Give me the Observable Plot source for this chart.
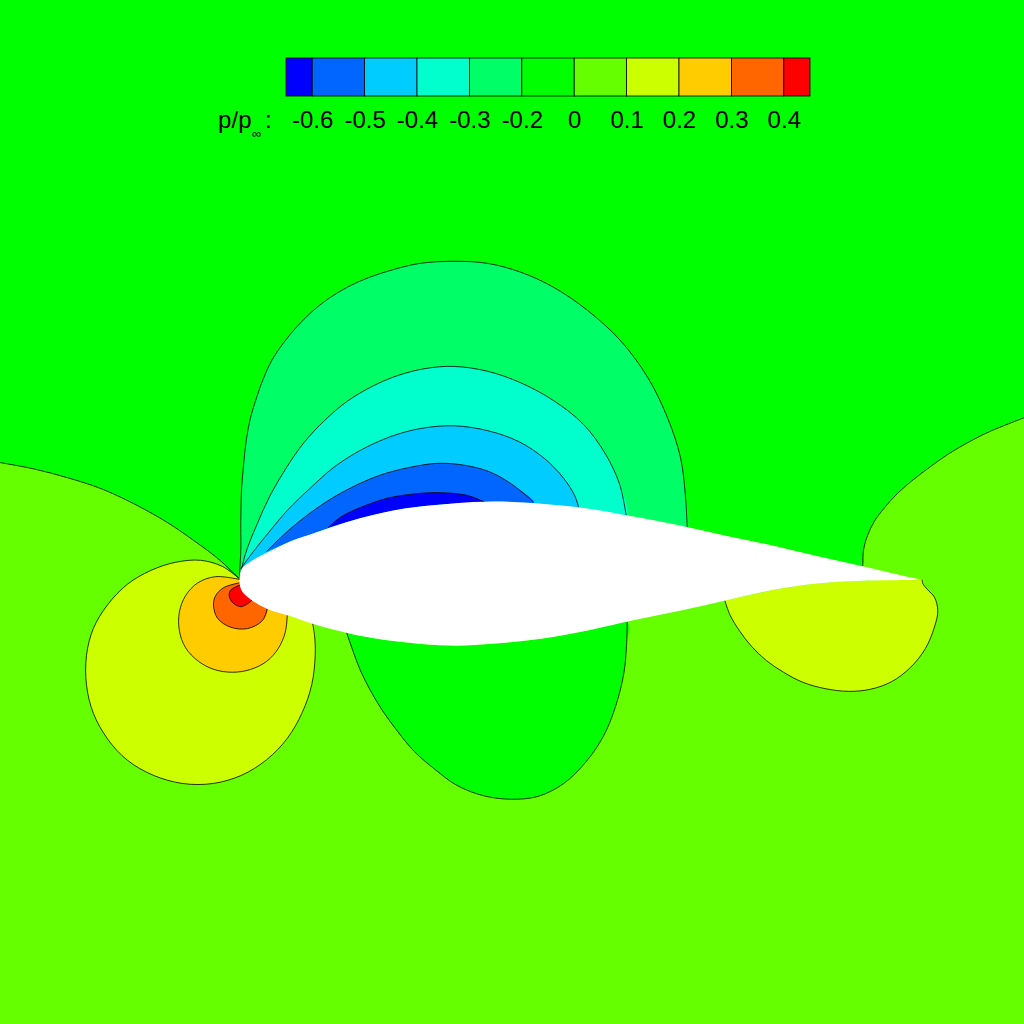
<!DOCTYPE html>
<html>
<head>
<meta charset="utf-8">
<script src="https://cdn.jsdelivr.net/npm/d3@7"></script>
<script src="https://cdn.jsdelivr.net/npm/@observablehq/plot@0.6"></script>
<style>
html, body { margin: 0; padding: 0; background: #66ff00; }
#wrap { position: relative; width: 1024px; height: 1024px; overflow: hidden; }
#wrap svg { position: absolute; left: 0; top: 0; max-width: none; }
</style>
</head>
<body>
<div id="wrap"></div>
<script>
// ---- colour bar (p/p∞ levels) ----
const levelLabels = ["-0.6", "-0.5", "-0.4", "-0.3", "-0.2", "0", "0.1", "0.2", "0.3", "0.4"];
const bandColors = ["#0000ff", "#0066ff", "#00ccff", "#00ffcc", "#00ff66", "#00ff00",
                    "#66ff00", "#ccff00", "#ffcc00", "#ff6600", "#ff0000"];

// ---- airfoil geometry (x/c, y/c) ----
const airfoilX     = [0, 0.003, 0.016, 0.040, 0.075, 0.107, 0.174, 0.242, 0.309, 0.375, 0.442, 0.510, 0.577, 0.645, 0.712, 0.779, 0.847, 0.914, 1.0];
const airfoilUpper = [0.001, 0.017, 0.028, 0.041, 0.058, 0.069, 0.091, 0.106, 0.113, 0.116, 0.113, 0.106, 0.094, 0.081, 0.066, 0.052, 0.036, 0.021, 0.001];
const airfoilLower = [0.001, -0.014, -0.027, -0.041, -0.052, -0.063, -0.080, -0.090, -0.095, -0.092, -0.085, -0.073, -0.058, -0.044, -0.029, -0.014, -0.004, 0.000, 0.001];

// ---- iso-lines (x/c, y/c) ----
const zeroLeft  = [[-0.35,0.173],[-0.302,0.164],[-0.252,0.151],[-0.203,0.135],[-0.155,0.113],[-0.105,0.085],[-0.067,0.059],[-0.032,0.033],[0,0.003]];
const zeroRight = [[0.913,0.022],[0.914,0.044],[0.920,0.066],[0.930,0.087],[0.945,0.107],[0.964,0.128],[0.987,0.148],[1.012,0.167],[1.039,0.186],[1.068,0.203],[1.100,0.219],[1.15,0.239]];

const suctionA = [[0,0.002],[0.001,0.025],[0.002,0.044],[0.002,0.088],[0.003,0.132],[0.006,0.169],[0.010,0.206],[0.016,0.238],[0.025,0.268],[0.035,0.296],[0.048,0.324],[0.065,0.349],[0.084,0.372],[0.106,0.394],[0.130,0.413],[0.158,0.430],[0.189,0.444],[0.226,0.456],[0.265,0.465],[0.314,0.468],[0.363,0.465],[0.412,0.452],[0.460,0.430],[0.510,0.396],[0.558,0.352],[0.598,0.298],[0.627,0.239],[0.646,0.181],[0.653,0.128],[0.656,0.078]];
const suctionB = [[0,0.002],[0.009,0.040],[0.025,0.081],[0.045,0.125],[0.069,0.166],[0.095,0.203],[0.125,0.235],[0.158,0.263],[0.195,0.285],[0.233,0.301],[0.273,0.311],[0.314,0.314],[0.363,0.307],[0.412,0.290],[0.460,0.264],[0.504,0.229],[0.536,0.186],[0.557,0.141],[0.567,0.093]];
const suctionC = [[0.002,0.018],[0.019,0.041],[0.043,0.071],[0.070,0.103],[0.103,0.135],[0.138,0.166],[0.177,0.191],[0.221,0.211],[0.265,0.223],[0.314,0.227],[0.363,0.220],[0.409,0.204],[0.447,0.179],[0.475,0.150],[0.491,0.125],[0.497,0.107]];
const suctionD = [[0.040,0.043],[0.060,0.063],[0.084,0.084],[0.110,0.104],[0.139,0.123],[0.173,0.141],[0.210,0.156],[0.249,0.166],[0.290,0.172],[0.331,0.169],[0.368,0.159],[0.401,0.140],[0.431,0.115]];
const suctionE = [[0.130,0.078],[0.148,0.093],[0.167,0.103],[0.217,0.121],[0.265,0.128],[0.295,0.129],[0.334,0.125],[0.359,0.115]];

const lowerOval = [[0.157,-0.076],[0.166,-0.102],[0.177,-0.131],[0.192,-0.161],[0.210,-0.191],[0.232,-0.221],[0.256,-0.250],[0.286,-0.276],[0.319,-0.300],[0.358,-0.315],[0.397,-0.320],[0.437,-0.316],[0.475,-0.297],[0.507,-0.266],[0.533,-0.228],[0.551,-0.184],[0.563,-0.136],[0.567,-0.095],[0.568,-0.061]];

const stagYellow = [[0,0.003],[-0.025,0.021],[-0.057,0.030],[-0.094,0.027],[-0.130,0.015],[-0.164,-0.005],[-0.193,-0.035],[-0.214,-0.070],[-0.224,-0.109],[-0.224,-0.153],[-0.214,-0.194],[-0.193,-0.232],[-0.164,-0.263],[-0.126,-0.285],[-0.083,-0.297],[-0.039,-0.297],[0.003,-0.285],[0.040,-0.262],[0.070,-0.231],[0.092,-0.193],[0.106,-0.152],[0.111,-0.109],[0.110,-0.080],[0.107,-0.061]];
const stagOrange = [[0,0.002],[-0.035,0.006],[-0.061,-0.003],[-0.079,-0.022],[-0.088,-0.046],[-0.088,-0.073],[-0.079,-0.098],[-0.060,-0.118],[-0.037,-0.130],[-0.010,-0.134],[0.016,-0.130],[0.040,-0.118],[0.057,-0.099],[0.067,-0.076],[0.070,-0.051]];
const stagDeepOrange = [[0.000,-0.003],[-0.023,-0.010],[-0.035,-0.022],[-0.038,-0.036],[-0.032,-0.055],[-0.013,-0.068],[0.012,-0.070],[0.034,-0.058],[0.041,-0.039]];
const stagRed = [[0.001,-0.006],[-0.013,-0.014],[-0.015,-0.022],[-0.010,-0.032],[0.002,-0.038],[0.013,-0.033],[0.021,-0.026]];

const trailYellow = [[0.711,-0.029],[0.719,-0.051],[0.733,-0.074],[0.750,-0.096],[0.772,-0.117],[0.797,-0.134],[0.826,-0.149],[0.858,-0.158],[0.892,-0.162],[0.924,-0.159],[0.955,-0.148],[0.983,-0.127],[1.005,-0.099],[1.018,-0.068],[1.023,-0.044],[1.018,-0.024],[1.008,-0.013],[1.001,-0.004],[1.0,0.001]];

// ---- build polygons ----
const xDomain = [-0.35, 1.15], yDomain = [-0.65, 0.85];
const surface = side => airfoilX.map((x, i) => [x, (side === "upper" ? airfoilUpper : airfoilLower)[i]]);
function closeAlong(pts, side) {
  const a = pts[0][0], b = pts[pts.length - 1][0];
  const lo = Math.min(a, b) + 0.004, hi = Math.max(a, b) - 0.004;
  const s = surface(side).filter(([x]) => x > lo && x < hi);
  if (b > a) s.reverse();
  return pts.concat(s);
}
const extend = (p, q) => [2 * p[0] - q[0], 2 * p[1] - q[1]];
const zl = zeroLeft, zr = zeroRight;
const zeroRegion = [
  [xDomain[0] - 0.1, yDomain[1] + 0.1],
  extend(zl[0], zl[1]),
  ...zl,
  ...surface("upper").filter(([x]) => x > zl[zl.length - 1][0] + 0.002 && x < zr[0][0] - 0.002),
  ...zr,
  extend(zr[zr.length - 1], zr[zr.length - 2]),
  [xDomain[1] + 0.1, yDomain[1] + 0.1]
];

const regions = [
  {poly: zeroRegion, color: bandColors[5]},
  {poly: closeAlong(suctionA, "upper"), color: bandColors[4]},
  {poly: closeAlong(suctionB, "upper"), color: bandColors[3]},
  {poly: closeAlong(suctionC, "upper"), color: bandColors[2]},
  {poly: closeAlong(suctionD, "upper"), color: bandColors[1]},
  {poly: closeAlong(suctionE, "upper"), color: bandColors[0]},
  {poly: closeAlong(lowerOval, "lower"), color: bandColors[5]},
  {poly: closeAlong(stagYellow, "lower"), color: bandColors[7]},
  {poly: closeAlong(stagOrange, "lower"), color: bandColors[8]},
  {poly: closeAlong(stagDeepOrange, "lower"), color: bandColors[9]},
  {poly: closeAlong(stagRed, "lower"), color: bandColors[10]},
  {poly: closeAlong(trailYellow, "lower"), color: bandColors[7]}
];
const isoLines = [zeroLeft, zeroRight, suctionA, suctionB, suctionC, suctionD, suctionE,
                  lowerOval, stagYellow, stagOrange, stagDeepOrange, stagRed, trailYellow];

const up = surface("upper"), low = surface("lower");
const airfoil = [...up.slice().reverse(), ...low.slice(1)];

const X = d => d[0], Y = d => d[1];
const main = Plot.plot({
  width: 1024, height: 1024, margin: 0,
  x: {domain: xDomain, axis: null},
  y: {domain: yDomain, axis: null},
  style: {background: bandColors[6]},
  marks: [
    ...regions.map(r => Plot.line(r.poly, {x: X, y: Y, fill: r.color, stroke: "none", curve: "catmull-rom"})),
    ...isoLines.map(l => Plot.line(l, {x: X, y: Y, stroke: "#000", strokeWidth: 0.8, curve: "catmull-rom"})),
    Plot.line(airfoil, {x: X, y: Y, fill: "#ffffff", stroke: "none", curve: "catmull-rom"})
  ]
});

// ---- colour bar ----
const n = levelLabels.length;
const cells = bandColors.map((c, k) => ({c, x1: Math.max(k - 1, -0.5), x2: Math.min(k, n - 0.5)}));
const font = "'Liberation Sans', Arial, Helvetica, sans-serif";
const bar = Plot.plot({
  width: 1024, height: 150,
  marginTop: 58, marginBottom: 54, marginLeft: 286, marginRight: 214,
  x: {domain: [-0.5, n - 0.5], axis: null},
  color: {type: "identity"},
  style: {background: "transparent", fontFamily: font},
  marks: [
    Plot.rect(cells, {x1: "x1", x2: "x2", fill: "c", stroke: "#000", strokeWidth: 0.8}),
    Plot.text(levelLabels, {x: (d, i) => i, frameAnchor: "bottom", dy: 31, fontSize: 24, fill: "#000", fontFamily: font}),
    Plot.text(["p/p"], {x: -1.805, frameAnchor: "bottom", dy: 31, fontSize: 24, textAnchor: "start", fill: "#000", fontFamily: font}),
    Plot.text(["\u221e"], {x: -1.16, frameAnchor: "bottom", dy: 41, fontSize: 13, textAnchor: "start", fill: "#000", fontFamily: font}),
    Plot.text([":"], {x: -0.91, frameAnchor: "bottom", dy: 31, fontSize: 24, textAnchor: "start", fill: "#000", fontFamily: font})
  ]
});

const wrap = document.getElementById("wrap");
wrap.appendChild(main);
wrap.appendChild(bar);
</script>
</body>
</html>
